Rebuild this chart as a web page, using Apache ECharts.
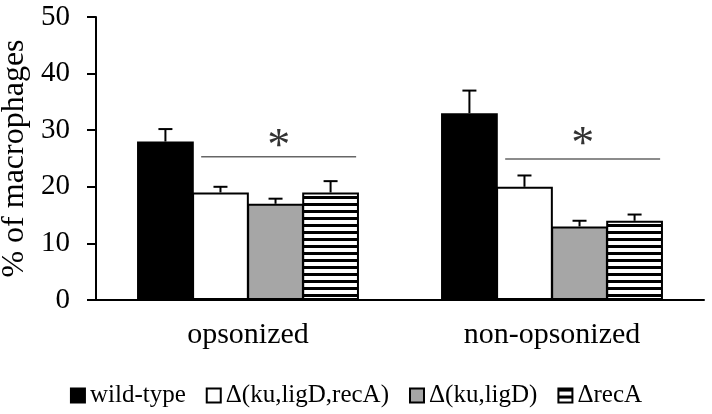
<!DOCTYPE html>
<html>
<head>
<meta charset="utf-8">
<script src="https://cdn.jsdelivr.net/npm/echarts@6/dist/echarts.min.js"></script>
<style>
  html, body { margin: 0; padding: 0; background: #fff; }
  #chart { width: 712px; height: 414px; }
</style>
</head>
<body>
<div id="chart"></div>
<script>
const categories = ['opsonized', 'non-opsonized']
const seriesNames = ['wild-type', 'Δ(ku,ligD,recA)', 'Δ(ku,ligD)', 'ΔrecA']
// mean values per series (opsonized, non-opsonized)
const wildType = [28, 33]
const kuLigDRecA = [19, 20]
const kuLigD = [17, 13]
const recA = [19, 14]
// upper error (SD) per series
const wildTypeErr = [2.2, 4]
const kuLigDRecAErr = [1, 2]
const kuLigDErr = [0.9, 1]
const recAErr = [2, 1.1]
// significance bar level and asterisk level per category
const sigLevel = [25.3, 24.9]
const starLevel = [31.0, 31.2]
const yTicks = [0, 10, 20, 30, 40, 50]

const FONT = 'Liberation Serif'
const CAT_GAP = 0.27
const BAR_GAP = -0.03   // bars share their border line

// horizontal stripes for ΔrecA
const stripe = document.createElement('canvas')
stripe.width = 8; stripe.height = 7
const sctx = stripe.getContext('2d')
sctx.fillStyle = '#fff'; sctx.fillRect(0, 0, 8, 7)
sctx.fillStyle = '#000'; sctx.fillRect(0, 0, 8, 3)

const means = [wildType, kuLigDRecA, kuLigD, recA]
const errs = [wildTypeErr, kuLigDRecAErr, kuLigDErr, recAErr]
const fills = ['#000', '#fff', '#a6a6a6', { image: stripe, repeat: 'repeat' }]

const errData = []
means.forEach((arr, s) => arr.forEach((v, c) => errData.push([c, v, errs[s][c], s])))
const sigData = categories.map((c, i) => [i, sigLevel[i], starLevel[i]])

// width of one bar and step between bar centres, same maths as the bar layout
const barWidthOf = (api) => api.size([1, 0])[0] * (1 - CAT_GAP) / (4 + 3 * BAR_GAP)
const barStepOf = (api) => barWidthOf(api) * (1 + BAR_GAP)

const chart = echarts.init(document.getElementById('chart'))
chart.setOption({
  animation: false,
  backgroundColor: '#fff',
  textStyle: { fontFamily: FONT, color: '#000' },
  grid: { left: 96, right: 8, top: 17, bottom: 114, outerBoundsMode: 'none', containLabel: false },
  legend: {
    data: seriesNames,
    left: 'center', top: 378,
    itemWidth: 14, itemHeight: 14, itemGap: 20,
    icon: 'rect',
    textStyle: { fontFamily: FONT, fontSize: 25, color: '#000' }
  },
  xAxis: {
    type: 'category', data: categories,
    axisLine: { lineStyle: { color: '#000', width: 2 } },
    axisTick: { length: 8, lineStyle: { color: '#000', width: 2 } },
    axisLabel: { fontFamily: FONT, fontSize: 30, color: '#000', margin: 20 }
  },
  yAxis: {
    type: 'value', min: 0, max: yTicks[yTicks.length - 1], interval: 10,
    name: '% of macrophages', nameLocation: 'middle', nameGap: 59,
    nameTextStyle: { fontFamily: FONT, fontSize: 32, color: '#000' },
    axisLine: { show: true, lineStyle: { color: '#000', width: 2 } },
    axisTick: { show: true, length: 9, lineStyle: { color: '#000', width: 2 } },
    axisLabel: { fontFamily: FONT, fontSize: 29, color: '#000', margin: 26 },
    splitLine: { show: false }
  },
  series: [
    ...seriesNames.map((name, s) => ({
      name, type: 'bar', data: means[s],
      barGap: (BAR_GAP * 100) + '%', barCategoryGap: (CAT_GAP * 100) + '%',
      itemStyle: { color: fills[s], borderColor: '#000', borderWidth: 2 }
    })),
    {
      // one-sided error bars
      type: 'custom', data: errData, z: 5,
      renderItem: (params, api) => {
        const c = api.value(0), v = api.value(1), e = api.value(2), s = api.value(3)
        const base = api.coord([c, v])
        const x = base[0] + (s - 1.5) * barStepOf(api)
        const yTop = api.coord([c, v + e])[1]
        const st = { stroke: '#000', lineWidth: 2 }
        return {
          type: 'group', children: [
            { type: 'line', shape: { x1: x, y1: base[1], x2: x, y2: yTop }, style: st },
            { type: 'line', shape: { x1: x - 7, y1: yTop, x2: x + 7, y2: yTop }, style: st }
          ]
        }
      }
    },
    {
      // significance line + asterisk
      type: 'custom', data: sigData, z: 5,
      renderItem: (params, api) => {
        const c = api.value(0)
        const bw = barWidthOf(api), step = barStepOf(api)
        const mid = api.coord([c, api.value(1)])
        const x1 = mid[0] - 0.5 * step - 0.5 * bw + 0.16 * bw
        const x2 = mid[0] + 1.5 * step + 0.5 * bw - 0.05 * bw
        const starY = api.coord([c, api.value(2)])[1]
        return {
          type: 'group', children: [
            { type: 'line', shape: { x1, y1: mid[1], x2, y2: mid[1] }, style: { stroke: '#666', lineWidth: 1.5 } },
            { type: 'text', x: (x1 + x2) / 2, y: starY,
              style: { text: '*', fontFamily: FONT, fontSize: 46, fill: '#333', align: 'center', verticalAlign: 'top' } }
          ]
        }
      }
    }
  ]
})
</script>
</body>
</html>
